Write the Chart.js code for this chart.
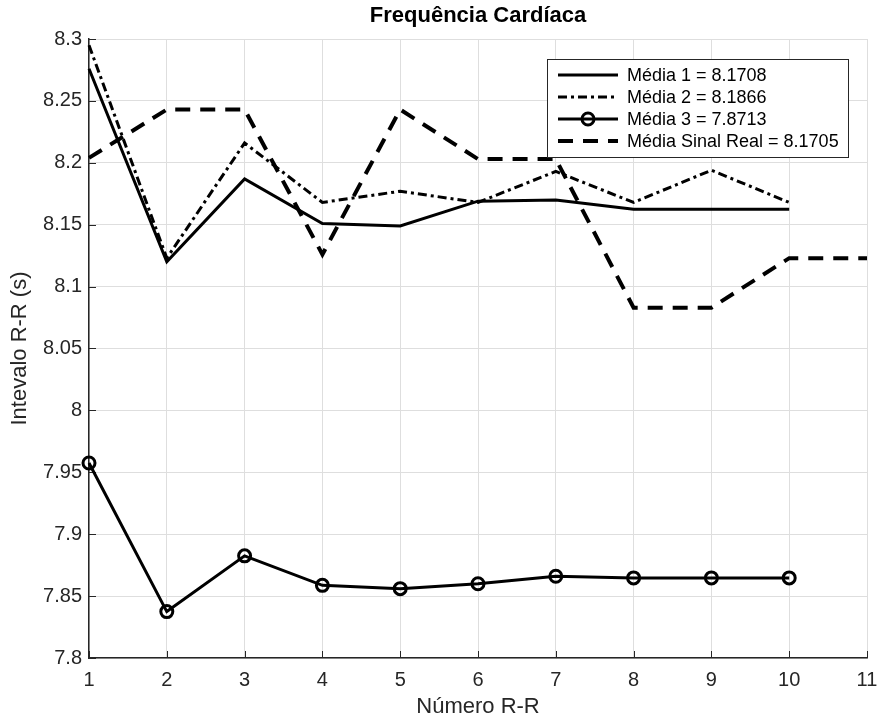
<!DOCTYPE html>
<html>
<head>
<meta charset="utf-8">
<script src="https://cdn.jsdelivr.net/npm/chart.js@4.4.1/dist/chart.umd.min.js"></script>
<style>
  html, body { margin: 0; padding: 0; background: #fff; }
  #wrap { width: 880px; height: 722px; }
</style>
</head>
<body>
<div id="wrap"><canvas id="frequencia" width="880" height="722"></canvas></div>
<script>
// dados
const numeroRR = [1, 2, 3, 4, 5, 6, 7, 8, 9, 10];
const numeroRRReal = [1, 2, 3, 4, 5, 6, 7, 8, 9, 10, 11];

const media1 = [8.276, 8.120, 8.187, 8.151, 8.149, 8.169, 8.170, 8.1625, 8.1625, 8.1625];
const media2 = [8.295, 8.123, 8.216, 8.168, 8.177, 8.168, 8.193, 8.168, 8.194, 8.168];
const media3 = [7.9575, 7.8375, 7.8825, 7.8587, 7.856, 7.860, 7.866, 7.8647, 7.8647, 7.8647];
const mediaReal = [8.204, 8.243, 8.243, 8.126, 8.243, 8.203, 8.203, 8.083, 8.083, 8.123, 8.123];

const titulo = 'Frequência Cardíaca';
const legendas = [
    'Média 1 = 8.1708',
    'Média 2 = 8.1866',
    'Média 3 = 7.8713',
    'Média Sinal Real = 8.1705'
];

const ticksX = [1, 2, 3, 4, 5, 6, 7, 8, 9, 10, 11];
const ticksY = [7.8, 7.85, 7.9, 7.95, 8, 8.05, 8.1, 8.15, 8.2, 8.25, 8.3];

const pares = (xs, ys) => ys.map((y, i) => ({ x: xs[i], y: y }));

Chart.defaults.font.family = '"Liberation Sans", Arial, Helvetica, sans-serif';

const corEixo = '#262626';
const corGrade = '#dedede';

// titulo centrado sobre a area do grafico (como no matlab)
const tituloCentrado = {
    id: 'tituloCentrado',
    afterDraw(chart) {
        const { ctx, chartArea: a } = chart;
        ctx.save();
        ctx.fillStyle = '#000';
        ctx.font = 'bold 22px "Liberation Sans", Arial, sans-serif';
        ctx.textAlign = 'center';
        ctx.textBaseline = 'middle';
        ctx.fillText(titulo, (a.left + a.right) / 2, 16);
        ctx.restore();
    }
};

// legenda desenhada no estilo do matlab
const legendaMatlab = {
    id: 'legendaMatlab',
    afterDatasetsDraw(chart) {
        const ctx = chart.ctx;
        const bx = 547, by = 59, bw = 301, bh = 98;
        ctx.save();
        ctx.fillStyle = '#fff';
        ctx.fillRect(bx, by, bw, bh);
        ctx.strokeStyle = corEixo;
        ctx.lineWidth = 1;
        ctx.strokeRect(bx + 0.5, by + 0.5, bw, bh);
        chart.data.datasets.forEach((ds, i) => {
            const yy = by + 16 + i * 22;
            ctx.strokeStyle = ds.borderColor;
            ctx.lineWidth = ds.borderWidth;
            ctx.setLineDash(ds.borderDash || []);
            ctx.beginPath();
            ctx.moveTo(558, yy);
            ctx.lineTo(618, yy);
            ctx.stroke();
            ctx.setLineDash([]);
            if (ds.pointRadius > 0) {
                ctx.lineWidth = ds.pointBorderWidth;
                ctx.beginPath();
                ctx.arc(588, yy, ds.pointRadius, 0, Math.PI * 2);
                ctx.stroke();
            }
            ctx.fillStyle = '#000';
            ctx.font = '18px "Liberation Sans", Arial, sans-serif';
            ctx.textBaseline = 'middle';
            ctx.textAlign = 'left';
            ctx.fillText(ds.label, 627, yy + 1);
        });
        ctx.restore();
    }
};

// marcas dos ticks para dentro
const marcasInternas = {
    id: 'marcasInternas',
    beforeDatasetsDraw(chart) {
        const { ctx, chartArea: a, scales: { x, y } } = chart;
        ctx.save();
        ctx.strokeStyle = corEixo;
        ctx.lineWidth = 1;
        ctx.beginPath();
        x.ticks.forEach(t => {
            const px = Math.round(x.getPixelForValue(t.value)) + 0.5;
            ctx.moveTo(px, a.bottom);
            ctx.lineTo(px, a.bottom - 7);
        });
        y.ticks.forEach(t => {
            const py = Math.round(y.getPixelForValue(t.value)) + 0.5;
            ctx.moveTo(a.left, py);
            ctx.lineTo(a.left + 7, py);
        });
        ctx.stroke();
        ctx.restore();
    }
};

const data = {
    datasets: [{
        label: legendas[0],
        data: pares(numeroRR, media1),
        borderColor: '#000',
        borderWidth: 3,
        pointRadius: 0,
        tension: 0,
        fill: false,
        clip: false
    }, {
        label: legendas[1],
        data: pares(numeroRR, media2),
        borderColor: '#000',
        borderWidth: 3,
        borderDash: [9, 4, 3, 4],
        pointRadius: 0,
        tension: 0,
        fill: false,
        clip: false
    }, {
        label: legendas[2],
        data: pares(numeroRR, media3),
        borderColor: '#000',
        borderWidth: 3,
        pointRadius: 6,
        pointBorderWidth: 3,
        pointBorderColor: '#000',
        pointBackgroundColor: 'rgba(0,0,0,0)',
        tension: 0,
        fill: false,
        clip: false
    }, {
        label: legendas[3],
        data: pares(numeroRRReal, mediaReal),
        borderColor: '#000',
        borderWidth: 4,
        borderDash: [15, 10],
        pointRadius: 0,
        tension: 0,
        fill: false,
        clip: false
    }]
};

const config = {
    type: 'line',
    data: data,
    plugins: [marcasInternas, legendaMatlab, tituloCentrado],
    options: {
        responsive: false,
        animation: false,
        events: [],
        layout: { padding: { left: 0, right: 13, top: 39, bottom: 0 } },
        plugins: {
            legend: { display: false },
            tooltip: { enabled: false },
            title: { display: false }
        },
        scales: {
            x: {
                type: 'linear',
                min: 1,
                max: 11,
                afterBuildTicks: s => { s.ticks = ticksX.map(v => ({ value: v })); },
                afterFit: s => { s.height = 64; s.paddingRight = 0; },
                ticks: {
                    color: corEixo,
                    font: { size: 20 },
                    padding: 10,
                    autoSkip: false,
                    maxRotation: 0,
                    callback: v => String(v)
                },
                grid: { color: corGrade, drawTicks: false },
                border: { color: corEixo, width: 1.5 },
                title: {
                    display: true,
                    text: 'Número R-R',
                    color: corEixo,
                    font: { size: 22 },
                    padding: { top: 0, bottom: 2 }
                }
            },
            y: {
                min: 7.8,
                max: 8.3,
                afterBuildTicks: s => { s.ticks = ticksY.map(v => ({ value: v })); },
                afterFit: s => { s.width = 89; s.paddingTop = 0; },
                ticks: {
                    color: corEixo,
                    font: { size: 20 },
                    padding: 7,
                    autoSkip: false,
                    callback: v => String(Number(v.toFixed(2)))
                },
                grid: { color: corGrade, drawTicks: false },
                border: { color: corEixo, width: 1.5 },
                title: {
                    display: true,
                    text: 'Intevalo R-R (s)',
                    color: corEixo,
                    font: { size: 22 },
                    padding: { top: 7, bottom: 0 }
                }
            }
        }
    }
};

const graficoFrequencia = new Chart(document.getElementById('frequencia'), config);
</script>
</body>
</html>
